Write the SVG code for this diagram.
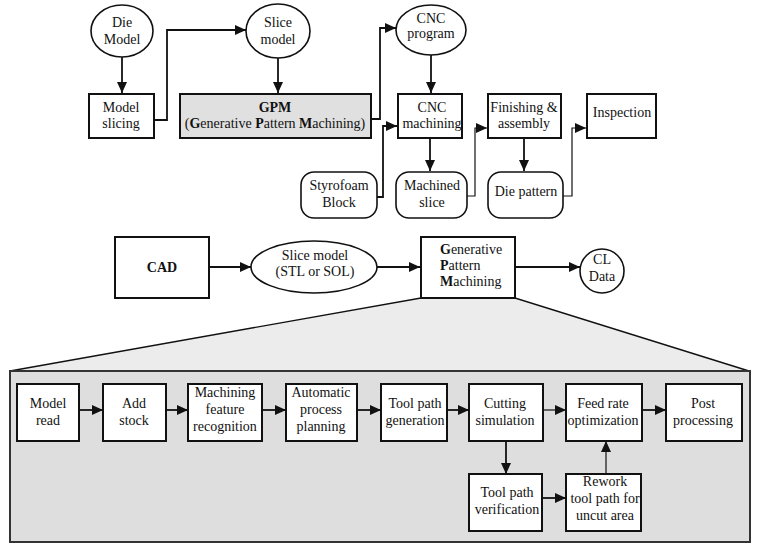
<svg xmlns="http://www.w3.org/2000/svg" width="757" height="547" viewBox="0 0 757 547">
<style>
text{font-family:"Liberation Serif","Times New Roman",serif;font-size:14px;fill:#111;text-anchor:middle}
.b{font-weight:bold}
.box{fill:#fff;stroke:#111;stroke-width:2}
.ell{fill:#fff;stroke:#111;stroke-width:1.6}
.con{fill:none;stroke:#111;stroke-width:1.8}
.thin{fill:none;stroke:#111;stroke-width:1.2}
</style>
<defs>
<marker id="ah" markerUnits="userSpaceOnUse" markerWidth="11" markerHeight="10" refX="11" refY="5" orient="auto">
<path d="M0,0 L11,5 L0,10 z" fill="#111"/>
</marker>
</defs>
<rect width="757" height="547" fill="#fff"/>
<!-- zoom trapezoid and panel -->
<g id="panel">
<polygon points="421,298 515,298 749,371 10,371" fill="#ececec" stroke="#111" stroke-width="1.4"/>
<rect x="10" y="371" width="740" height="171" fill="#dedede" stroke="#333" stroke-width="2"/>
</g>
<g id="connectors">
<path class="con" d="M122,57 V93" marker-end="url(#ah)"/>
<path class="con" d="M154,120 H167 V30 H246" marker-end="url(#ah)"/>
<path class="con" d="M278,58 V93" marker-end="url(#ah)"/>
<path class="con" d="M371,119 H380 V28 H396" marker-end="url(#ah)"/>
<path class="con" d="M431,55 V93" marker-end="url(#ah)"/>
<path class="con" d="M377,197 H383 V126 H397" marker-end="url(#ah)"/>
<path class="con" d="M430,138 V171" marker-end="url(#ah)"/>
<path class="thin" d="M467,196 H475 V128 H487" marker-end="url(#ah)"/>
<path class="con" d="M524,138 V171" marker-end="url(#ah)"/>
<path class="thin" d="M563,196 H572 V128 H586" marker-end="url(#ah)"/>
<path class="con" d="M209,267 H251" marker-end="url(#ah)"/>
<path class="con" d="M377,267 H420" marker-end="url(#ah)"/>
<path class="con" d="M515,267 H580" marker-end="url(#ah)"/>
<path class="con" d="M79,410 H103" marker-end="url(#ah)"/>
<path class="con" d="M166,410 H188" marker-end="url(#ah)"/>
<path class="con" d="M262,410 H286" marker-end="url(#ah)"/>
<path class="con" d="M357,410 H381" marker-end="url(#ah)"/>
<path class="con" d="M447,410 H469" marker-end="url(#ah)"/>
<path class="thin" d="M543,410 H566" marker-end="url(#ah)"/>
<path class="con" d="M642,410 H666" marker-end="url(#ah)"/>
<path class="con" d="M506,441 V474" marker-end="url(#ah)"/>
<path class="con" d="M542,498 H566" marker-end="url(#ah)"/>
<path class="thin" d="M606,474 V441" marker-end="url(#ah)"/>
</g>
<g id="die-model"><ellipse class="ell" cx="122" cy="31" rx="31" ry="26"/><text x="122" y="27">Die</text><text x="122" y="44">Model</text></g>
<g id="slice-model-top"><ellipse class="ell" cx="278" cy="31" rx="32" ry="27"/><text x="278" y="27">Slice</text><text x="278" y="44">model</text></g>
<g id="cnc-program"><ellipse class="ell" cx="431" cy="30" rx="35" ry="25"/><text x="431" y="23">CNC</text><text x="431" y="38">program</text></g>
<g id="model-slicing"><rect class="box" x="89" y="94" width="65" height="44"/><text x="121" y="112">Model</text><text x="121" y="128">slicing</text></g>
<g id="gpm"><rect x="180" y="94" width="191" height="44" fill="#e0e0e0" stroke="#111" stroke-width="2"/><text class="b" x="275" y="112">GPM</text><text x="275" y="128">(<tspan class="b">G</tspan>enerative <tspan class="b">P</tspan>attern <tspan class="b">M</tspan>achining)</text></g>
<g id="cnc-machining"><rect class="box" x="398" y="94" width="64" height="44"/><text x="432" y="112">CNC</text><text x="432" y="128">machining</text></g>
<g id="finishing"><rect class="box" x="488" y="94" width="73" height="44"/><text x="524" y="112">Finishing &amp;</text><text x="524" y="128">assembly</text></g>
<g id="inspection"><rect class="box" x="587" y="94" width="69" height="44"/><text x="622" y="117">Inspection</text></g>
<g id="styrofoam"><rect class="ell" x="301" y="172" width="76" height="46" rx="13"/><text x="339" y="190">Styrofoam</text><text x="339" y="207">Block</text></g>
<g id="machined-slice"><rect class="ell" x="396" y="172" width="71" height="46" rx="13"/><text x="432" y="190">Machined</text><text x="432" y="207">slice</text></g>
<g id="die-pattern"><rect class="ell" x="488" y="172" width="75" height="46" rx="13"/><text x="526" y="196">Die pattern</text></g>
<g id="cad"><rect class="box" x="115" y="237" width="94" height="61"/><text class="b" x="162" y="272">CAD</text></g>
<g id="slice-model-mid"><ellipse class="ell" cx="314" cy="267" rx="63" ry="26"/><text x="315" y="260">Slice model</text><text x="315" y="276">(STL or SOL)</text></g>
<g id="gpm-mid"><rect class="box" x="421" y="237" width="94" height="61"/><text x="440" y="254" style="text-anchor:start"><tspan class="b">G</tspan>enerative</text><text x="440" y="270" style="text-anchor:start"><tspan class="b">P</tspan>attern</text><text x="440" y="286" style="text-anchor:start"><tspan class="b">M</tspan>achining</text></g>
<g id="cl-data"><ellipse class="ell" cx="602" cy="271" rx="22" ry="22"/><text x="602" y="264">CL</text><text x="602" y="281">Data</text></g>
<g id="model-read"><rect class="box" x="17" y="384" width="62" height="57"/><text x="48" y="408">Model</text><text x="48" y="425">read</text></g>
<g id="add-stock"><rect class="box" x="103" y="384" width="63" height="57"/><text x="134" y="408">Add</text><text x="134" y="425">stock</text></g>
<g id="mfr"><rect class="box" x="188" y="384" width="74" height="57"/><text x="225" y="397">Machining</text><text x="225" y="414">feature</text><text x="225" y="431">recognition</text></g>
<g id="app"><rect class="box" x="286" y="384" width="71" height="57"/><text x="321" y="397">Automatic</text><text x="321" y="414">process</text><text x="321" y="431">planning</text></g>
<g id="tpg"><rect class="box" x="381" y="384" width="66" height="57"/><text x="415" y="408">Tool path</text><text x="415" y="425">generation</text></g>
<g id="cutting"><rect class="box" x="469" y="384" width="74" height="57"/><text x="505" y="408">Cutting</text><text x="505" y="425">simulation</text></g>
<g id="feed"><rect class="box" x="566" y="384" width="76" height="57"/><text x="603" y="408">Feed rate</text><text x="603" y="425">optimization</text></g>
<g id="post"><rect class="box" x="666" y="384" width="76" height="57"/><text x="703" y="408">Post</text><text x="703" y="425">processing</text></g>
<g id="tpv"><rect class="box" x="469" y="474" width="73" height="57"/><text x="507" y="497">Tool path</text><text x="507" y="514">verification</text></g>
<g id="rework"><rect class="box" x="566" y="474" width="75" height="57"/><text x="605" y="486">Rework</text><text x="605" y="503">tool path for</text><text x="605" y="520">uncut area</text></g>
</svg>
